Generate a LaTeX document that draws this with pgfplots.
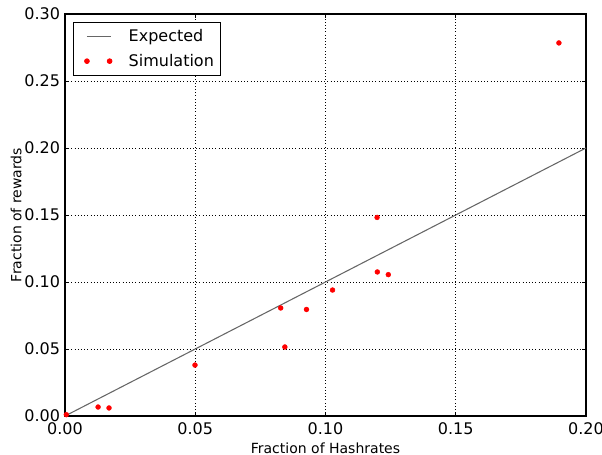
\documentclass[border=0pt]{standalone}
\usepackage{fontspec}
\setmainfont{DejaVu Sans}
\usepackage{pgfplots}
\pgfplotsset{compat=1.18}
\usetikzlibrary{calc}
\begin{document}
\fontsize{10.5}{12.5}\selectfont
\begin{tikzpicture}
\begin{axis}[
    scale only axis,
    width=390.75pt, height=301.5pt,
    xmin=0, xmax=0.2, ymin=0, ymax=0.3,
    xtick={0,0.05,0.1,0.15,0.2}, ytick={0,0.05,0.1,0.15,0.2,0.25,0.3},
    xticklabels={0.00,0.05,0.10,0.15,0.20},
    yticklabels={0.00,0.05,0.10,0.15,0.20,0.25,0.30},
    tick label style={font=\fontsize{12}{14}\selectfont},
    xticklabel style={yshift=-1.5pt},
    scaled ticks=false,
    tick align=inside, tick pos=both, major tick length=3pt,
    tick style={black, line width=0.6pt},
    axis line style={line width=0.8pt},
    grid=major,
    major grid style={black, dotted, line width=0.6pt},
    xlabel={Fraction of Hashrates}, ylabel={Fraction of rewards},
    xlabel style={yshift=1pt}, ylabel style={yshift=-5pt},
    legend style={at={(0.015,0.98)}, anchor=north west, draw=black, line width=0.6pt,
      font=\fontsize{12}{14}\selectfont, row sep=4pt, inner sep=3pt, cells={anchor=west}},
    legend cell align=left,
]
\addplot[black!60, line width=0.8pt, forget plot] coordinates {(0,0) (0.2,0.2)};
\addlegendimage{legend image code/.code={\path (-7pt,0pt) (29pt,0pt); \draw[black!60, line width=0.8pt] (0pt,0pt) -- (18pt,0pt);}}
\addlegendentry{Expected}
\addplot[only marks, mark=*, mark size=1.8pt, red, mark options={draw=red, fill=red},
  legend image code/.code={\path (-7pt,0pt) (29pt,0pt); \fill[red] (0pt,0pt) circle (1.8pt); \fill[red] (17pt,0pt) circle (1.8pt);}]
  coordinates {
  (0.0005,0.001) (0.0127,0.0067) (0.0169,0.006) (0.0499,0.038)
  (0.0828,0.0806) (0.0844,0.0515) (0.0927,0.0795) (0.1027,0.094)
  (0.1198,0.1482) (0.1199,0.1075) (0.1241,0.1055) (0.1896,0.2784)
};
\addlegendentry{Simulation}
\coordinate (bl) at (rel axis cs:0,0);
\coordinate (tr) at (rel axis cs:1,1);
\end{axis}
\pgfresetboundingbox
\path ($(bl)+(-48.75pt,-29.25pt)$) rectangle ($(tr)+(12pt,10.5pt)$);
\end{tikzpicture}
\end{document}
